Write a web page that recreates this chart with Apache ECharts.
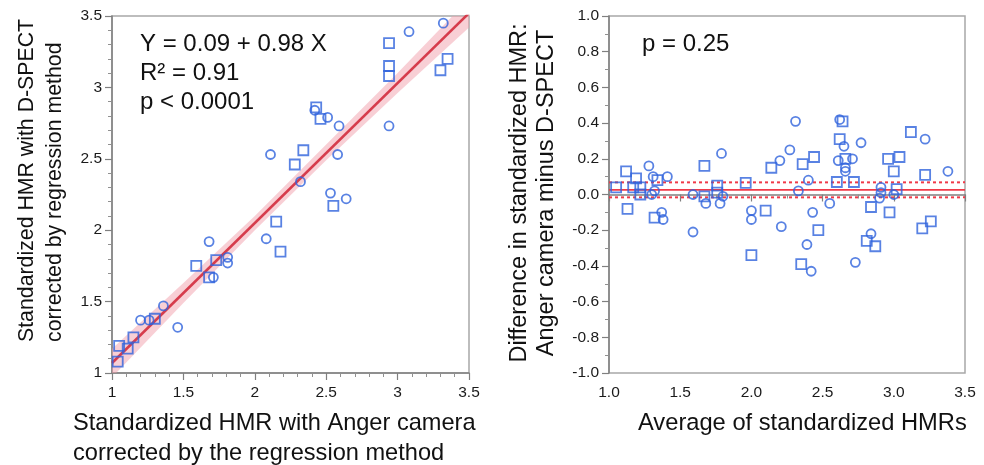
<!DOCTYPE html>
<html>
<head>
<meta charset="utf-8">
<script src="https://cdn.jsdelivr.net/npm/echarts@6/dist/echarts.min.js"></script>
<style>
  html, body { margin: 0; padding: 0; background: #fff; }
  #chart { width: 984px; height: 465px; }
</style>
</head>
<body>
<div id="chart"></div>
<script>
// left panel: regression, circles and squares
const regCircX = [3.32, 3.08, 2.42, 2.51, 2.59, 2.94, 2.11, 2.58, 2.32, 2.53, 2.64, 2.08, 1.68, 1.81, 1.81, 1.71, 1.36, 1.20, 1.26, 1.46]
const regCircY = [3.45, 3.39, 2.84, 2.79, 2.73, 2.73, 2.53, 2.53, 2.34, 2.26, 2.22, 1.94, 1.92, 1.81, 1.77, 1.67, 1.47, 1.37, 1.37, 1.32]
const regSqX = [2.94, 3.35, 3.30, 2.94, 2.94, 2.43, 2.46, 2.34, 2.28, 2.55, 2.15, 2.18, 1.59, 1.73, 1.68, 1.30, 1.15, 1.05, 1.11, 1.04]
const regSqY = [3.31, 3.20, 3.12, 3.15, 3.08, 2.86, 2.78, 2.56, 2.46, 2.17, 2.06, 1.85, 1.75, 1.79, 1.67, 1.38, 1.25, 1.19, 1.17, 1.08]
// fitted line and its confidence band
const fitX = [1.0, 3.5]
const fitY = [1.07, 3.52]
const bandX = [1.0, 1.5, 2.0, 2.5, 3.0, 3.5]
const bandLow = [0.97, 1.49, 2.00, 2.49, 2.96, 3.42]
const bandHigh = [1.17, 1.63, 2.10, 2.60, 3.10, 3.62]

// right panel: Bland-Altman
const baCircX = [1.28, 1.31, 1.41, 1.32, 1.30, 1.37, 1.38, 1.59, 1.59, 1.68, 1.78, 1.80, 1.79, 2.00, 2.00, 2.20, 2.21, 2.31, 2.62, 2.27, 2.65, 2.77, 2.61, 2.71, 2.66, 2.66, 2.40, 2.33, 2.55, 2.43, 2.84, 2.39, 2.73, 2.42, 3.22, 3.38, 2.91, 2.91, 2.90, 3.00]
const baCircY = [0.16, 0.10, 0.10, 0.02, 0.00, -0.10, -0.14, 0.00, -0.21, -0.05, -0.05, -0.01, 0.23, -0.09, -0.14, 0.19, -0.18, 0.41, 0.42, 0.25, 0.27, 0.29, 0.19, 0.20, 0.15, 0.13, 0.08, 0.02, -0.05, -0.10, -0.22, -0.28, -0.38, -0.43, 0.31, 0.13, 0.04, 0.01, -0.02, 0.00]
const baSqX = [1.05, 1.12, 1.19, 1.17, 1.22, 1.22, 1.13, 1.34, 1.32, 1.67, 1.76, 1.76, 1.67, 1.96, 2.10, 2.00, 2.14, 2.64, 2.62, 2.36, 2.44, 2.66, 2.60, 2.72, 2.96, 3.04, 3.00, 3.12, 3.22, 3.02, 2.84, 2.97, 2.47, 2.81, 2.87, 3.20, 3.26, 2.35]
const baSqY = [0.04, 0.13, 0.09, 0.04, 0.04, 0.00, -0.08, 0.08, -0.13, 0.16, 0.05, 0.01, -0.01, 0.065, -0.09, -0.34, 0.15, 0.41, 0.31, 0.17, 0.21, 0.20, 0.07, 0.07, 0.20, 0.21, 0.13, 0.35, 0.11, 0.03, -0.07, -0.10, -0.20, -0.26, -0.29, -0.19, -0.15, -0.39]
const limitX = [1.0, 3.5]
const meanDiff = 0.026
const limitHigh = 0.068
const limitLow = -0.016

const FONT = '"Liberation Sans", Arial, Helvetica, sans-serif'
const BLUE = '#2f63dc'
const RED = '#f03a48'

const pairs = (xs, ys) => xs.map((x, i) => [x, ys[i]])

function valueAxis (idx, min, max, interval, minorSplit, fmt, margin) {
  return {
    type: 'value',
    gridIndex: idx,
    min: min,
    max: max,
    interval: interval,
    axisLine: { show: true, lineStyle: { color: '#808080', width: 1.5 } },
    axisTick: { show: true, length: 7, lineStyle: { color: '#808080', width: 1.2 } },
    minorTick: { show: true, splitNumber: minorSplit, length: 4, lineStyle: { color: '#909090', width: 1 } },
    splitLine: { show: false },
    axisLabel: {
      color: '#1a1a1a',
      fontSize: 15.5,
      fontFamily: FONT,
      margin: margin,
      formatter: fmt
    }
  }
}

const oneDec = v => v.toFixed(1)
const plain = v => String(+v.toFixed(2))

const markerStyle = { color: 'transparent', borderColor: BLUE, borderWidth: 1.8 }

const chart = echarts.init(document.getElementById('chart'))
chart.setOption({
  animation: false,
  backgroundColor: '#fff',
  grid: [
    { left: 112, top: 16, width: 357, height: 357, show: true, borderColor: '#a8a8a8', borderWidth: 1.5 },
    { left: 609, top: 16, width: 356, height: 357, show: true, borderColor: '#a8a8a8', borderWidth: 1.5 }
  ],
  xAxis: [
    valueAxis(0, 1, 3.5, 0.5, 5, plain, 12),
    valueAxis(1, 1, 3.5, 0.5, 2, oneDec, 12)
  ],
  yAxis: [
    valueAxis(0, 1, 3.5, 0.5, 5, plain, 10),
    valueAxis(1, -1, 1, 0.2, 2, oneDec, 10)
  ],
  graphic: [
    { type: 'text', left: 73, top: 408, style: { text: 'Standardized HMR with Anger camera\ncorrected by the regression method', font: '23.6px ' + FONT, fill: '#111', lineHeight: 30 } },
    { type: 'text', x: 27, y: 342, rotation: Math.PI / 2, style: { text: 'Standardized HMR with D-SPECT', font: '21.3px ' + FONT, fill: '#111', textAlign: 'left', textVerticalAlign: 'middle' } },
    { type: 'text', x: 55, y: 342, rotation: Math.PI / 2, style: { text: 'corrected by regression method', font: '21.3px ' + FONT, fill: '#111', textAlign: 'left', textVerticalAlign: 'middle' } },
    { type: 'text', x: 520, y: 193, rotation: Math.PI / 2, style: { text: 'Difference in standardized HMR:', font: '23.5px ' + FONT, fill: '#111', textAlign: 'center', textVerticalAlign: 'middle' } },
    { type: 'text', x: 547, y: 193, rotation: Math.PI / 2, style: { text: 'Anger camera minus D-SPECT', font: '23.5px ' + FONT, fill: '#111', textAlign: 'center', textVerticalAlign: 'middle' } },
    { type: 'text', left: 638, top: 411, style: { text: 'Average of standardized HMRs', font: '23.7px ' + FONT, fill: '#111' } },
    { type: 'text', x: 140, y: 44, style: { text: 'Y = 0.09 + 0.98 X', font: '24px ' + FONT, fill: '#111', textVerticalAlign: 'middle' } },
    { type: 'text', x: 140, y: 73, style: { text: 'R² = 0.91', font: '24px ' + FONT, fill: '#111', textVerticalAlign: 'middle' } },
    { type: 'text', x: 140, y: 102, style: { text: 'p < 0.0001', font: '24px ' + FONT, fill: '#111', textVerticalAlign: 'middle' } },
    { type: 'text', x: 642, y: 44, style: { text: 'p = 0.25', font: '24px ' + FONT, fill: '#111', textVerticalAlign: 'middle' } }
  ],
  series: [
    {
      name: 'band',
      type: 'custom',
      xAxisIndex: 0,
      yAxisIndex: 0,
      clip: true,
      z: 1,
      encode: { x: 0, y: [1, 2] },
      data: bandX.map((x, i) => [x, bandLow[i], bandHigh[i]]),
      renderItem (params, api) {
        if (params.dataIndex !== 0) return
        const top = bandX.map((x, i) => api.coord([x, bandHigh[i]]))
        const bottom = bandX.map((x, i) => api.coord([x, bandLow[i]])).reverse()
        return {
          type: 'polygon',
          shape: { points: top.concat(bottom) },
          style: { fill: 'rgba(242, 160, 172, 0.5)' }
        }
      }
    },
    {
      name: 'fit',
      type: 'line',
      xAxisIndex: 0,
      yAxisIndex: 0,
      data: pairs(fitX, fitY),
      clip: true,
      showSymbol: false,
      z: 2,
      lineStyle: { color: '#d63c4c', width: 2.6 }
    },
    {
      name: 'reg circles',
      type: 'scatter',
      xAxisIndex: 0,
      yAxisIndex: 0,
      symbol: 'circle',
      symbolSize: 9,
      z: 3,
      itemStyle: markerStyle,
      data: pairs(regCircX, regCircY)
    },
    {
      name: 'reg squares',
      type: 'scatter',
      xAxisIndex: 0,
      yAxisIndex: 0,
      symbol: 'rect',
      symbolSize: 10,
      z: 3,
      itemStyle: markerStyle,
      data: pairs(regSqX, regSqY)
    },
    {
      name: 'mean',
      type: 'line',
      xAxisIndex: 1,
      yAxisIndex: 1,
      showSymbol: false,
      z: 2,
      lineStyle: { color: RED, width: 1.6 },
      data: limitX.map(x => [x, meanDiff])
    },
    {
      name: 'upper',
      type: 'line',
      xAxisIndex: 1,
      yAxisIndex: 1,
      showSymbol: false,
      z: 2,
      lineStyle: { color: RED, width: 2, type: [3, 3] },
      data: limitX.map(x => [x, limitHigh])
    },
    {
      name: 'lower',
      type: 'line',
      xAxisIndex: 1,
      yAxisIndex: 1,
      showSymbol: false,
      z: 2,
      lineStyle: { color: RED, width: 2, type: [3, 3] },
      data: limitX.map(x => [x, limitLow])
    },
    {
      name: 'ba circles',
      type: 'scatter',
      xAxisIndex: 1,
      yAxisIndex: 1,
      symbol: 'circle',
      symbolSize: 9,
      z: 3,
      itemStyle: markerStyle,
      data: pairs(baCircX, baCircY)
    },
    {
      name: 'ba squares',
      type: 'scatter',
      xAxisIndex: 1,
      yAxisIndex: 1,
      symbol: 'rect',
      symbolSize: 10,
      z: 3,
      itemStyle: markerStyle,
      data: pairs(baSqX, baSqY)
    }
  ]
})
</script>
</body>
</html>
